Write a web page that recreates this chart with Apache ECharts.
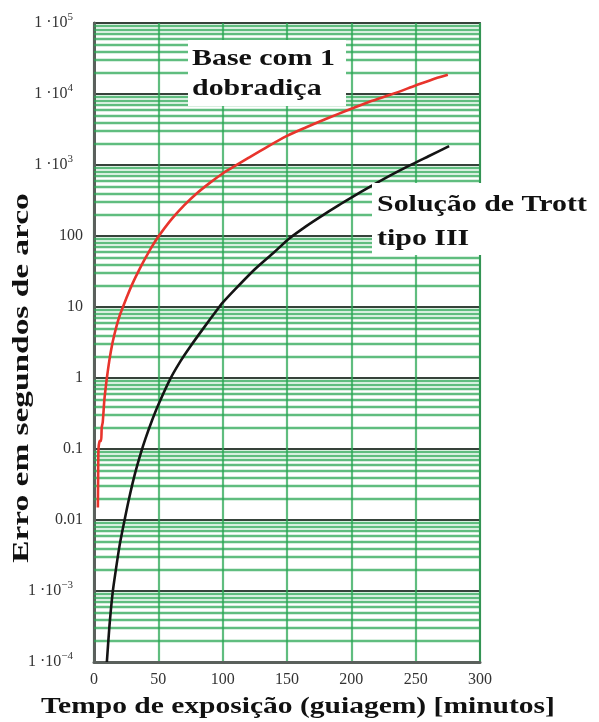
<!DOCTYPE html>
<html>
<head>
<meta charset="utf-8">
<script src="https://cdn.jsdelivr.net/npm/echarts@6/dist/echarts.min.js"></script>
<style>
  html, body { margin: 0; padding: 0; background: #ffffff; }
  #chart { width: 599px; height: 722px; }
</style>
</head>
<body>
<div id="chart"></div>
<script>
// Exposure (guiding) time in minutes and tracking error in arc seconds
const hingeTime  = [3, 3.2, 3.5, 4.5, 5.5, 6, 6.8, 8, 9, 10, 12, 14, 16, 18, 20, 22.5, 26, 30, 35, 40, 45, 50, 60, 70, 80, 90, 100, 107, 120, 135, 150, 165, 175, 190, 200, 215, 232, 250, 262, 275];
const hingeError = [0.015, 0.04, 0.1, 0.13, 0.13, 0.2, 0.24, 0.48, 0.71, 1.0, 1.8, 2.9, 4.2, 5.8, 7.6, 10, 14.5, 21.5, 33, 49, 71, 98, 170, 270, 400, 560, 760, 910, 1260, 1820, 2570, 3400, 4070, 5250, 6200, 7900, 10000, 13200, 15800, 18600];

const trottTime  = [10, 12, 14.5, 17, 20, 24, 28, 32, 36.5, 40, 45, 50, 59, 67, 75, 85, 96, 100, 110, 125, 140, 152, 165, 175, 190, 200, 215, 230, 245, 260, 276];
const trottError = [0.0001, 0.00032, 0.00095, 0.002, 0.0045, 0.0105, 0.023, 0.046, 0.089, 0.14, 0.25, 0.42, 0.95, 1.7, 2.8, 5.0, 9.3, 11.5, 18, 34, 59, 93, 138, 182, 270, 347, 500, 708, 980, 1330, 1840];

// Decades of the log axis and the sub-decade multipliers used for the light grid
const decadeExponents = [-4, -3, -2, -1, 0, 1, 2, 3, 4];
const subMultipliers  = [2, 3, 4, 5, 6, 7, 8, 9];
const plainLabels = { '-2': '0.01', '-1': '0.1', '0': '1', '1': '10', '2': '100' };
const timeRange = [0, 300];

const minorLines = [];
decadeExponents.forEach(function (e) {
  subMultipliers.forEach(function (m) {
    const v = m * Math.pow(10, e);
    minorLines.push({ coords: [[timeRange[0], v], [timeRange[1], v]] });
  });
});

function zip(xs, ys) { return xs.map(function (x, i) { return [x, ys[i]]; }); }

const chart = echarts.init(document.getElementById('chart'), null, { renderer: 'canvas' });

const serif = 'Liberation Serif, Times New Roman, serif';
const greenLine = 'rgba(40,166,82,0.74)';
const darkLine = '#36433a';

chart.setOption({
  animation: false,
  backgroundColor: '#ffffff',
  grid: {
    left: 94, right: 119, top: 23, bottom: 60,
    show: true, borderColor: '#56605a', borderWidth: 2, backgroundColor: 'transparent'
  },
  xAxis: {
    type: 'value', min: timeRange[0], max: timeRange[1], interval: 50,
    axisLine: { show: true, onZero: false, lineStyle: { color: '#5a605c', width: 3 } },
    axisTick: { show: false },
    axisLabel: { margin: 10, fontFamily: serif, fontSize: 16, color: '#333333' },
    splitLine: { show: true, lineStyle: { color: greenLine, width: 2.2 } }
  },
  yAxis: {
    type: 'log', logBase: 10, min: 0.0001, max: 100000, splitNumber: 9,
    axisLine: { show: true, lineStyle: { color: '#5a605c', width: 3 } },
    axisTick: { show: false },
    axisLabel: {
      margin: 11, fontFamily: serif, fontSize: 16, color: '#333333',
      formatter: function (v) {
        const e = Math.round(Math.log10(v));
        if (plainLabels[String(e)] !== undefined) return plainLabels[String(e)];
        const exp = e < 0 ? '\u2212' + (-e) : String(e);
        return '{b|1 \u00b710}{s|' + exp + '}{g|}';
      },
      rich: {
        b: { fontFamily: serif, fontSize: 16, color: '#333333', lineHeight: 22 },
        s: { fontFamily: serif, fontSize: 11, color: '#333333', lineHeight: 12, verticalAlign: 'top' },
        g: { width: 10, lineHeight: 12 }
      }
    },
    splitLine: { show: true, lineStyle: { color: darkLine, width: 2.2 } },
    minorSplitLine: { show: false }
  },
  series: [
    {
      name: 'grade',
      type: 'lines',
      coordinateSystem: 'cartesian2d',
      silent: true,
      z: 1,
      lineStyle: { color: greenLine, width: 2.4, opacity: 1 },
      data: minorLines
    },
    {
      name: 'Base com 1 dobradiça',
      type: 'line',
      data: zip(hingeTime, hingeError),
      showSymbol: false,
      smooth: 0.25,
      z: 5,
      lineStyle: { color: '#e8342c', width: 2.6 }
    },
    {
      name: 'Solução de Trott tipo III',
      type: 'line',
      data: zip(trottTime, trottError),
      showSymbol: false,
      smooth: 0.25,
      z: 5,
      lineStyle: { color: '#141414', width: 2.6 }
    }
  ],
  graphic: [
    {
      type: 'rect', z: 50,
      shape: { x: 188, y: 40, width: 158, height: 66 },
      style: { fill: '#ffffff' }
    },
    {
      type: 'text', z: 51, x: 192, y: 44, scaleX: 1.3,
      style: { text: 'Base com 1\ndobradiça', font: 'bold 23px ' + serif, fill: '#111111', lineHeight: 30 }
    },
    {
      type: 'rect', z: 50,
      shape: { x: 372, y: 183, width: 227, height: 72 },
      style: { fill: '#ffffff' }
    },
    {
      type: 'text', z: 51, x: 377, y: 188, scaleX: 1.3,
      style: { text: 'Solução de Trott\ntipo III', font: 'bold 23px ' + serif, fill: '#111111', lineHeight: 34 }
    },
    {
      type: 'text', z: 51, x: 298, y: 707, scaleX: 1.23,
      style: { text: 'Tempo de exposição (guiagem) [minutos]', font: 'bold 24px ' + serif, fill: '#111111', align: 'center', verticalAlign: 'middle' }
    },
    {
      type: 'text', z: 51, x: 22, y: 378, rotation: Math.PI / 2, scaleX: 1.39,
      style: { text: 'Erro em segundos de arco', font: 'bold 24px ' + serif, fill: '#111111', align: 'center', verticalAlign: 'middle' }
    }
  ]
});
</script>
</body>
</html>
